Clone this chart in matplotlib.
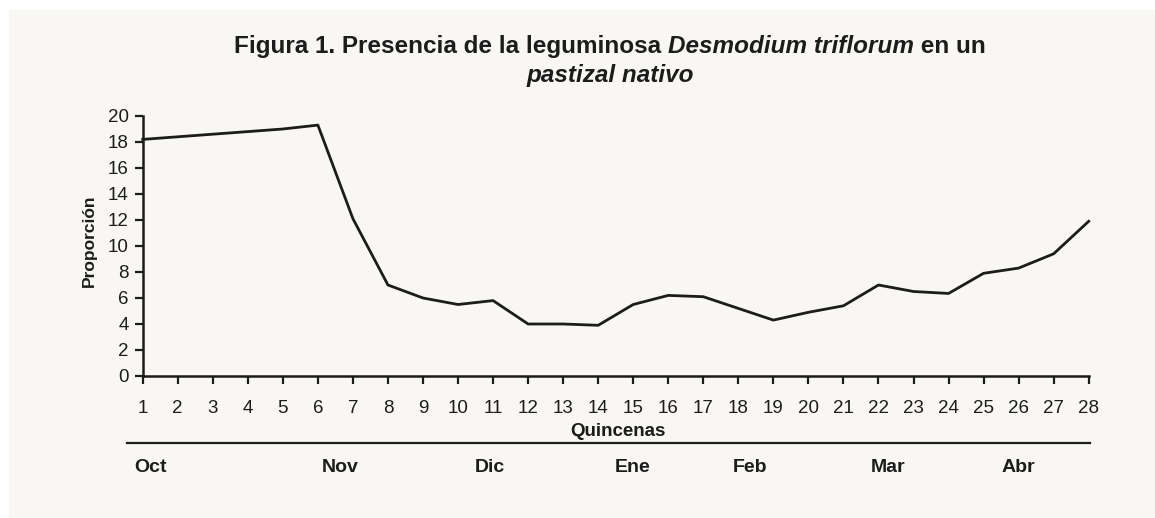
import matplotlib
matplotlib.use("Agg")
import matplotlib.pyplot as plt
from matplotlib.patches import Rectangle

# Quincenas (fortnights) and proportion of Desmodium triflorum
quincenas = list(range(1, 29))
proporcion = [18.2, 18.4, 18.6, 18.8, 19.0, 19.3, 12.1, 7.0, 6.0, 5.5,
              5.8, 4.0, 4.0, 3.9, 5.5, 6.2, 6.1, 5.2, 4.3, 4.9,
              5.4, 7.0, 6.5, 6.35, 7.9, 8.3, 9.4, 11.9]
meses = ["Oct", "Nov", "Dic", "Ene", "Feb", "Mar", "Abr"]
meses_x = [1.21, 6.64, 10.92, 14.99, 18.34, 22.28, 26.0]

plt.rcParams['font.family'] = ['Liberation Sans', 'DejaVu Sans']
ink = '#1c1c1c'
bg = '#f9f7f4'

W, H = 1155, 518
fig = plt.figure(figsize=(W / 100, H / 100), dpi=100)
fig.patch.set_facecolor('white')
fig.patches.append(Rectangle((9 / W, 0), 1, 1 - 10 / H, transform=fig.transFigure,
                             facecolor=bg, edgecolor='none', zorder=-10))

ax = fig.add_axes([142.7 / W, 1 - 376 / H, (1088.7 - 142.7) / W, (376 - 116) / H])
ax.set_facecolor('none')
ax.plot(quincenas, proporcion, color=ink, lw=2.0, clip_on=False)

ax.set_xlim(1, 28)
ax.set_ylim(0, 20)
ax.set_xticks(quincenas)
ax.set_yticks(range(0, 21, 2))
for s in ['top', 'right']:
    ax.spines[s].set_visible(False)
for s in ['left', 'bottom']:
    ax.spines[s].set_linewidth(1.8)
    ax.spines[s].set_color(ink)
ax.tick_params(axis='both', colors=ink, labelsize=13.5, width=1.6, length=6)
ax.tick_params(axis='x', pad=11)
ax.tick_params(axis='y', pad=4)

ax.set_ylabel('Proporción', fontsize=12.5, fontweight='bold', color=ink)
ax.yaxis.set_label_coords((97 - 142.7) / 946, (376 - 240.5) / 260)

# "Quincenas" label, separator line and month names
fig.text(618 / W, 1 - 431 / H, 'Quincenas', ha='center', va='center',
         fontsize=13.5, fontweight='bold', color=ink)
fig.add_artist(plt.Line2D([127 / W, 1090 / W], [1 - 443 / H, 1 - 443 / H],
                          transform=fig.transFigure, color=ink, lw=1.6))
trans = ax.get_xaxis_transform()
for m, x in zip(meses, meses_x):
    ax.text(x, 1 - (467 - 116) / (376 - 116), m, transform=trans,
            ha='center', va='center', fontsize=14, fontweight='bold', color=ink)

# Title with mixed italic parts
line1 = [("Figura 1. Presencia de la leguminosa ", 'normal'),
         ("Desmodium triflorum", 'italic'),
         (" en un", 'normal')]
line2 = [("pastizal nativo", 'italic')]


def draw_line(parts, y, size):
    texts = []
    for t, style in parts:
        texts.append(fig.text(0, y, t, fontsize=size, fontweight='bold', style=style,
                              color=ink, va='baseline', ha='left'))
    fig.canvas.draw()
    r = fig.canvas.get_renderer()
    widths = [tx.get_window_extent(r).width for tx in texts]
    x = 610 - sum(widths) / 2
    for tx, w in zip(texts, widths):
        tx.set_x(x / W)
        x += w


draw_line(line1, 1 - 53 / H, 17.5)
draw_line(line2, 1 - 82 / H, 17.5)

fig.savefig('out.png', dpi=100, facecolor=fig.get_facecolor())
